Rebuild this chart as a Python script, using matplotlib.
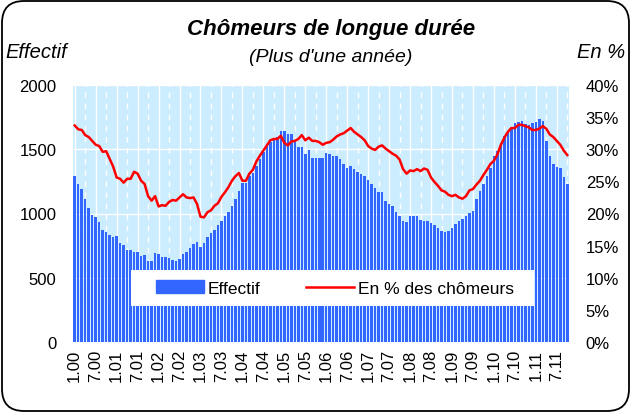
import matplotlib.pyplot as plt
from matplotlib.patches import FancyBboxPatch, Rectangle
from matplotlib.lines import Line2D
from matplotlib.transforms import IdentityTransform
from matplotlib.ticker import FuncFormatter, MultipleLocator

plt.rcParams["font.family"] = ["Liberation Sans", "DejaVu Sans"]

# monthly values, January 2000 to October 2011
effectif = [
    1294, 1229, 1190, 1112, 1040, 988, 972, 931, 869, 853, 835, 817,
    827, 770, 755, 716, 716, 698, 703, 672, 677, 630, 630, 692,
    684, 664, 664, 650, 638, 633, 646, 682, 698, 729, 763, 776,
    737, 770, 814, 845, 874, 910, 944, 983, 1009, 1061, 1112, 1177,
    1237, 1237, 1294, 1315, 1372, 1424, 1476, 1522, 1553, 1579, 1592, 1644,
    1644, 1618, 1618, 1566, 1514, 1519, 1463, 1494, 1432, 1429, 1432, 1432,
    1470, 1460, 1444, 1444, 1424, 1385, 1351, 1367, 1346, 1320, 1305, 1289,
    1263, 1229, 1196, 1164, 1164, 1099, 1074, 1061, 1014, 983, 944, 931,
    978, 978, 983, 949, 944, 940, 926, 910, 884, 866, 858, 866,
    884, 918, 944, 957, 983, 1004, 1022, 1112, 1177, 1229, 1294, 1351,
    1444, 1488, 1548, 1605, 1631, 1670, 1701, 1714, 1722, 1696, 1688, 1701,
    1709, 1735, 1717, 1566, 1444, 1385, 1359, 1351, 1281, 1229,
]

pct_chomeurs = [
    33.7, 33.1, 33.0, 32.2, 31.9, 31.3, 30.7, 30.5, 29.6, 29.7, 28.5, 27.3,
    25.6, 25.4, 24.8, 25.4, 25.4, 26.5, 26.2, 25.1, 24.6, 22.7, 22.0, 22.7,
    21.1, 21.3, 21.2, 21.8, 22.1, 22.0, 22.5, 23.0, 22.5, 22.4, 22.5, 21.5,
    19.5, 19.4, 20.2, 20.5, 21.2, 21.6, 22.6, 23.3, 24.1, 25.1, 25.8, 26.3,
    25.1, 25.1, 26.2, 26.8, 28.1, 29.0, 29.8, 30.6, 31.4, 31.6, 31.6, 32.1,
    31.0, 30.6, 31.2, 31.3, 31.6, 32.2, 31.4, 31.8, 31.3, 31.3, 31.1, 30.7,
    31.0, 31.1, 31.5, 32.0, 32.3, 32.5, 32.9, 33.3, 32.7, 32.3, 31.9, 31.4,
    30.5, 30.1, 29.9, 30.4, 30.6, 30.1, 29.7, 29.3, 29.0, 28.4, 26.9, 26.2,
    26.7, 26.6, 26.9, 26.6, 27.0, 26.8, 25.6, 24.9, 24.3, 23.6, 23.4, 22.9,
    22.7, 22.9, 22.5, 22.3, 22.7, 23.6, 23.8, 24.5, 25.1, 26.0, 26.8, 27.7,
    28.2, 29.2, 30.7, 31.8, 32.7, 33.3, 33.3, 33.8, 33.8, 33.6, 33.4, 33.0,
    33.0, 33.2, 33.6, 33.2, 32.3, 31.9, 31.3, 30.7, 29.8, 29.1,
]

tick_labels = [
    "1.00", "7.00", "1.01", "7.01", "1.02", "7.02", "1.03", "7.03",
    "1.04", "7.04", "1.05", "7.05", "1.06", "7.06", "1.07", "7.07",
    "1.08", "7.08", "1.09", "7.09", "1.10", "7.10", "1.11", "7.11",
]

BAR_COLOR = "#3366FF"
LINE_COLOR = "#FF0000"
PLOT_BG = "#CCECFF"


def main() -> None:
    fig = plt.figure(figsize=(6.31, 4.14), dpi=100)
    ax = fig.add_axes([73 / 631, 1 - 343 / 414, 496 / 631, 257 / 414])
    ax.set_facecolor(PLOT_BG)

    months = list(range(len(effectif)))
    ax.bar(months, effectif, width=0.72, color=BAR_COLOR, zorder=2)
    ax.set_xlim(-0.5, len(effectif) - 0.5)
    ax.set_ylim(0, 2000)
    ax.yaxis.set_major_locator(MultipleLocator(500))

    ax.set_xticks(range(0, 6 * len(tick_labels), 6))
    ax.set_xticklabels(tick_labels, rotation=90)
    ax.set_xticks(range(3, 6 * len(tick_labels), 6), minor=True)

    ax.grid(True, which="major", color="white", linewidth=1.0, zorder=1)
    ax.grid(True, which="minor", axis="x", color="white", linewidth=1.0,
            linestyle=(0, (4, 4)), zorder=1)
    ax.set_axisbelow(True)
    for spine in ax.spines.values():
        spine.set_visible(False)
    ax.tick_params(axis="y", length=0, labelsize=12, pad=12)
    ax.tick_params(axis="x", which="both", length=0, labelsize=12, pad=5)

    ax2 = ax.twinx()
    ax2.plot(months, pct_chomeurs, color=LINE_COLOR, linewidth=1.8, zorder=3)
    ax2.set_ylim(0, 40)
    ax2.yaxis.set_major_locator(MultipleLocator(5))
    ax2.yaxis.set_major_formatter(FuncFormatter(lambda v, _: f"{v:.0f}%"))
    for spine in ax2.spines.values():
        spine.set_visible(False)
    ax2.tick_params(axis="y", length=0, labelsize=12, pad=12)

    # white legend box, drawn separately so the inner padding can be wider
    ax2.add_patch(Rectangle((0.117, 0.14), 0.812, 0.14, transform=ax2.transAxes,
                            facecolor="white", edgecolor="none", zorder=4))
    handles = [
        plt.Rectangle((0, 0), 1, 1, color=BAR_COLOR),
        Line2D([0], [0], color=LINE_COLOR, linewidth=1.8),
    ]
    legend = ax2.legend(
        handles, ["Effectif", "En % des chômeurs"],
        loc="center", bbox_to_anchor=(0.528, 0.21), ncol=2, frameon=False,
        fontsize=12.5, handlelength=2.8, handletextpad=0.2,
        columnspacing=2.6, borderaxespad=0,
    )
    legend.set_zorder(5)

    fig.text(331 / 631, 1 - 30 / 414, "Chômeurs de longue durée", ha="center",
             va="center", fontsize=16, fontweight="bold", style="italic")
    fig.text(331 / 631, 1 - 58 / 414, "(Plus d'une année)", ha="center",
             va="center", fontsize=14, style="italic")
    fig.text(5 / 631, 1 - 52 / 414, "Effectif", ha="left", va="center",
             fontsize=14.5, style="italic")
    fig.text(625 / 631, 1 - 52 / 414, "En %", ha="right", va="center",
             fontsize=14.5, style="italic")

    frame = FancyBboxPatch(
        (2, 2), 627, 410, boxstyle="round,pad=0,rounding_size=22",
        transform=IdentityTransform(), facecolor="none", edgecolor="black",
        linewidth=1.3,
    )
    fig.patches.append(frame)

    fig.savefig("out.png", dpi=100)
    plt.close(fig)


if __name__ == "__main__":
    main()
